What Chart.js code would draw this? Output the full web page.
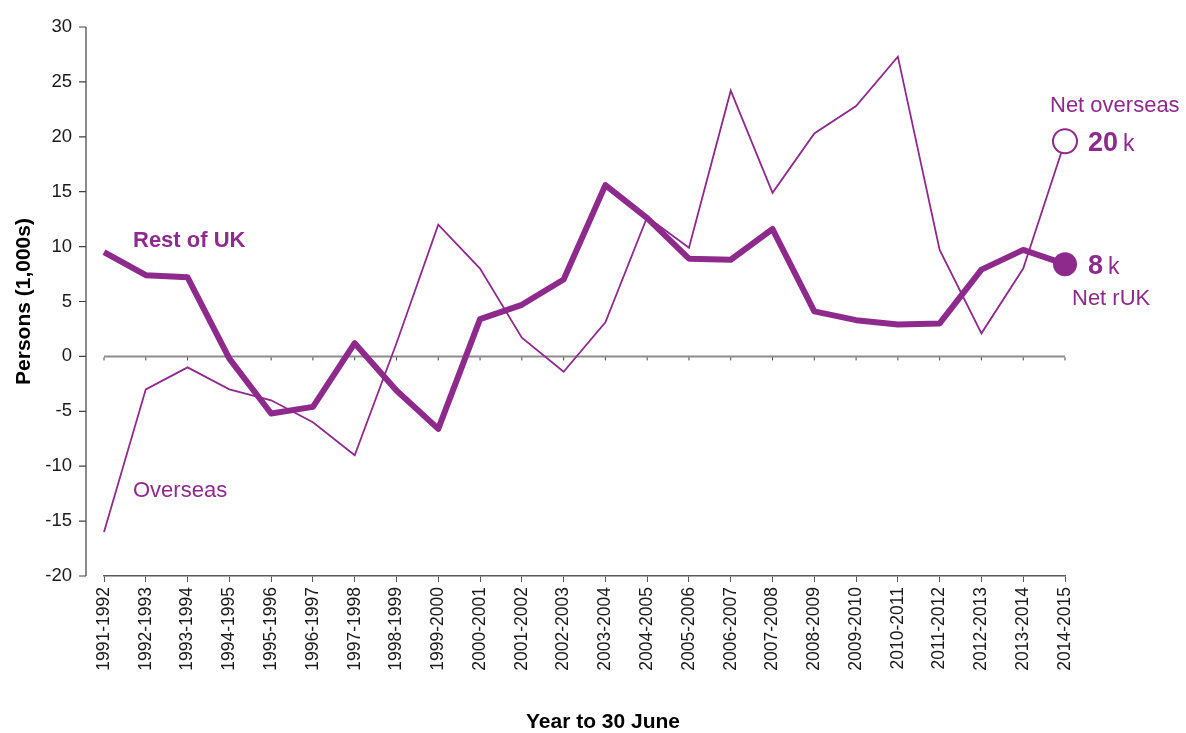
<!DOCTYPE html>
<html>
<head>
<meta charset="utf-8">
<script src="https://cdn.jsdelivr.net/npm/chart.js@4.4.0/dist/chart.umd.min.js"></script>
<style>
  html, body { margin: 0; padding: 0; background: #fff; }
  #wrap { width: 1186px; height: 733px; }
</style>
</head>
<body>
<div id="wrap"><canvas id="migChart" width="1186" height="733"></canvas></div>
<script>
'use strict';

let years = ['1991-1992', '1992-1993', '1993-1994', '1994-1995', '1995-1996', '1996-1997',
  '1997-1998', '1998-1999', '1999-2000', '2000-2001', '2001-2002', '2002-2003',
  '2003-2004', '2004-2005', '2005-2006', '2006-2007', '2007-2008', '2008-2009',
  '2009-2010', '2010-2011', '2011-2012', '2012-2013', '2013-2014', '2014-2015'];

// net migration, thousands of persons
let restOfUK = [9.5, 7.4, 7.2, -0.2, -5.2, -4.6, 1.2, -3.1, -6.6, 3.4, 4.7, 7.0,
  15.6, 12.6, 8.9, 8.8, 11.6, 4.1, 3.3, 2.9, 3.0, 7.9, 9.7, 8.4];
let overseas = [-16.0, -3.0, -1.0, -3.0, -4.0, -6.0, -9.0, 1.2, 12.0, 8.0, 1.7, -1.4,
  3.1, 12.7, 9.9, 24.2, 14.9, 20.3, 22.8, 27.3, 9.7, 2.1, 8.0, 19.6];

let yTickValues = [-20, -15, -10, -5, 0, 5, 10, 15, 20, 25, 30];

let purple = '#8e2a8c';
let fontFamily = '"Liberation Sans", Arial, sans-serif';
let last = years.length - 1;

function lastPointRadius(arr) {
  return arr.map((v, i) => (i === last ? 12 : 0));
}

// axis lines, zero line, titles and end labels
let decorPlugin = {
  id: 'decor',
  beforeDatasetsDraw(chart) {
    let ctx = chart.ctx;
    let area = chart.chartArea;
    let yScale = chart.scales.y;
    let xScale = chart.scales.x;
    let axisX = area.left - 18;

    ctx.save();
    ctx.strokeStyle = '#404040';
    ctx.lineWidth = 1.2;
    ctx.beginPath();
    ctx.moveTo(axisX, area.top);
    ctx.lineTo(axisX, area.bottom);
    yTickValues.forEach(v => {
      let py = yScale.getPixelForValue(v);
      ctx.moveTo(axisX - 7, py);
      ctx.lineTo(axisX, py);
    });
    ctx.stroke();

    // zero line with small ticks
    let zeroY = yScale.getPixelForValue(0);
    ctx.strokeStyle = '#8c8c8c';
    ctx.lineWidth = 2;
    ctx.beginPath();
    ctx.moveTo(area.left, zeroY);
    ctx.lineTo(area.right, zeroY);
    ctx.stroke();
    ctx.strokeStyle = '#404040';
    ctx.lineWidth = 1;
    ctx.beginPath();
    years.forEach((y, i) => {
      let px = xScale.getPixelForValue(i);
      ctx.moveTo(px, zeroY + 1);
      ctx.lineTo(px, zeroY + 4);
    });
    ctx.stroke();
    ctx.restore();
  },
  afterDatasetsDraw(chart) {
    let ctx = chart.ctx;
    let xScale = chart.scales.x;
    let yScale = chart.scales.y;

    ctx.save();
    ctx.fillStyle = purple;
    ctx.textBaseline = 'alphabetic';
    ctx.textAlign = 'left';

    // series names near the start
    let x0 = xScale.getPixelForValue(0);
    ctx.font = 'bold 22px ' + fontFamily;
    ctx.fillText('Rest of UK', x0 + 29, yScale.getPixelForValue(10.0));
    ctx.font = '22px ' + fontFamily;
    ctx.fillText('Overseas', x0 + 29, yScale.getPixelForValue(-12.8));

    // end values
    let px = xScale.getPixelForValue(last);
    let endLabel = (value, py) => {
      let num = String(Math.round(value));
      ctx.font = 'bold 27px ' + fontFamily;
      ctx.fillText(num, px + 23, py + 10);
      let w = ctx.measureText(num).width;
      ctx.font = '23px ' + fontFamily;
      ctx.fillText('k', px + 23 + w + 5, py + 10);
    };
    let pyOver = yScale.getPixelForValue(overseas[last]);
    let pyRest = yScale.getPixelForValue(restOfUK[last]);
    endLabel(overseas[last], pyOver);
    endLabel(restOfUK[last], pyRest);

    ctx.font = '22px ' + fontFamily;
    ctx.fillText('Net overseas', px - 15, pyOver - 29);
    ctx.fillText('Net rUK', px + 7, pyRest + 41);

    // axis titles
    let area = chart.chartArea;
    ctx.fillStyle = '#000';
    ctx.font = 'bold 21px ' + fontFamily;
    ctx.textAlign = 'center';
    ctx.textBaseline = 'middle';
    ctx.fillText('Year to 30 June', 603, 722);
    ctx.translate(24, (area.top + area.bottom) / 2);
    ctx.rotate(-Math.PI / 2);
    ctx.fillText('Persons (1,000s)', 0, 0);
    ctx.restore();
  }
};

let config = {
  type: 'line',
  data: {
    labels: years,
    datasets: [{
      label: 'Overseas',
      data: overseas,
      borderColor: purple,
      borderWidth: 1.8,
      pointRadius: lastPointRadius(overseas),
      pointBackgroundColor: '#fff',
      pointBorderColor: purple,
      pointBorderWidth: 2,
      tension: 0,
      clip: false,
      order: 0
    },
    {
      label: 'Rest of UK',
      data: restOfUK,
      borderColor: purple,
      borderWidth: 6,
      borderJoinStyle: 'round',
      pointRadius: lastPointRadius(restOfUK),
      pointBackgroundColor: purple,
      pointBorderColor: purple,
      pointBorderWidth: 0,
      tension: 0,
      clip: false,
      order: 1
    }]
  },
  options: {
    responsive: false,
    animation: false,
    devicePixelRatio: 1,
    layout: { padding: { top: 27, right: 121, left: 0, bottom: 0 } },
    plugins: {
      legend: { display: false },
      tooltip: { enabled: false }
    },
    scales: {
      x: {
        offset: false,
        grid: { drawOnChartArea: false, drawTicks: true, tickLength: 6, color: '#595959', lineWidth: 1 },
        border: { display: true, color: '#595959', width: 1.5 },
        ticks: {
          autoSkip: false,
          minRotation: 90,
          maxRotation: 90,
          padding: 5,
          color: '#1a1a1a',
          font: { family: fontFamily, size: 17.5 }
        },
        afterFit(scale) { scale.height = 157; }
      },
      y: {
        min: yTickValues[0],
        max: yTickValues[yTickValues.length - 1],
        // the axis line is drawn by the plugin, 18px left of the plot
        grid: { display: false, drawTicks: true, tickLength: 24 },
        border: { display: false },
        ticks: {
          stepSize: 5,
          padding: 8,
          color: '#1a1a1a',
          font: { family: fontFamily, size: 18.5 }
        },
        afterFit(scale) { scale.width = 104; }
      }
    }
  },
  plugins: [decorPlugin]
};

let migChart = new Chart(document.getElementById('migChart'), config);
</script>
</body>
</html>
